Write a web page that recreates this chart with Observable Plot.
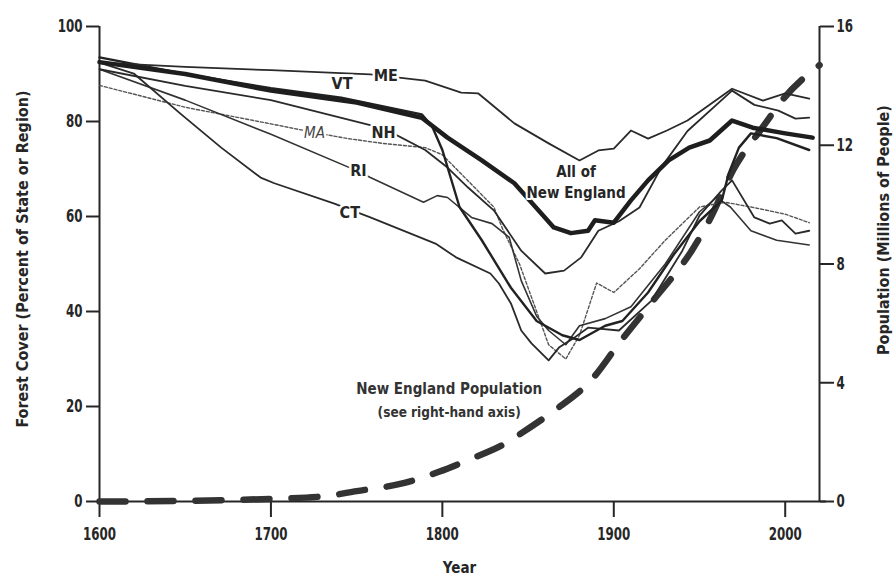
<!DOCTYPE html>
<html>
<head>
<meta charset="utf-8">
<script src="https://cdn.jsdelivr.net/npm/d3@7"></script>
<script src="https://cdn.jsdelivr.net/npm/@observablehq/plot@0.6"></script>
<style>
  html, body { margin: 0; padding: 0; background: #fff; }
  #chart { width: 896px; height: 581px; }
</style>
</head>
<body>
<div id="chart"></div>
<script>
// ---- Data ----
const xTicks = [1600, 1700, 1800, 1900, 2000];
const leftTicks = [0, 20, 40, 60, 80, 100];
const rightTicks = [0, 4, 8, 12, 16];   // population, millions

const xTitle = "Year";
const yTitle = "Forest Cover (Percent of State or Region)";
const y2Title = "Population (Millions of People)";

// Forest cover, percent: [year, percent]
const ME = [[1600,92.4],[1650,91.5],[1700,90.8],[1758,89.9],[1790,88.6],[1811,86.1],[1821,85.9],[1842,79.6],[1862,75.4],[1880,71.8],[1891,73.9],[1900,74.3],[1910,78.1],[1920,76.4],[1931,78.1],[1943,80.2],[1969,86.9],[1987,84.4],[2000,85.9],[2014,84.8]];
const VT = [[1600,93.5],[1650,90],[1700,87],[1741,85],[1788,81.5],[1794,79],[1800,74],[1810,62],[1823,55],[1840,45],[1855,38],[1870,35],[1880,34],[1895,37],[1905,38],[1920,44],[1935,52],[1950,59],[1963,63.4],[1967,69],[1973,74.5],[1980,77.5],[1995,76.5],[2014,74]];
const NH = [[1600,91],[1650,87.5],[1700,84.5],[1766,78.5],[1790,74],[1803,70.3],[1815,66.1],[1830,61.3],[1846,52.8],[1860,48],[1871,48.6],[1881,51.4],[1891,57],[1903,59],[1915,61.9],[1928,70.5],[1943,78],[1969,86.5],[1982,83.5],[1996,82.3],[2006,80.6],[2014,80.8]];
const MA = [[1600,87.6],[1650,83],[1700,79.5],[1725,77.7],[1745,76.4],[1765,75.4],[1790,74.5],[1800,73],[1830,62],[1835,57.5],[1845,50],[1855,40],[1862,33],[1872,30],[1880,35],[1890,46],[1900,44],[1915,49],[1930,55],[1950,62],[1965,63],[1980,62],[2000,60.5],[2014,58.7]];
const RI = [[1600,91],[1650,84.5],[1700,77.3],[1751,69.5],[1758,68.2],[1789,63],[1797,64.4],[1803,64],[1817,59.8],[1829,58.5],[1839,55.6],[1846,46.5],[1855,39],[1862,36],[1872,33],[1880,37],[1895,38.5],[1910,41],[1930,50],[1950,61],[1960,64],[1968,62],[1980,57],[1995,55],[2014,54]];
const CT = [[1600,92.4],[1620,90.1],[1647,81.7],[1671,74.5],[1694,68.2],[1702,67],[1737,62.7],[1758,59.8],[1796,54.3],[1808,51.4],[1828,48],[1833,45.9],[1840,41.7],[1846,36],[1852,33.3],[1862,29.7],[1868,32.4],[1877,34.5],[1885,36.6],[1903,36],[1922,42.3],[1940,52.8],[1950,60.2],[1963,65.5],[1969,67.6],[1982,59.8],[1991,58.5],[1998,59.2],[2006,56.4],[2014,57]];
const NE = [[1600,92.5],[1650,90],[1700,86.5],[1750,84],[1788,80.8],[1803,76.6],[1823,71.8],[1842,67],[1865,57.7],[1875,56.5],[1885,57],[1889,59.2],[1900,58.7],[1910,63.4],[1920,67.6],[1932,71.8],[1944,74.5],[1956,76],[1969,80.2],[1981,78.7],[2000,77.5],[2016,76.6]];

// New England population, millions: [year, millions]
const POP = [[1600,0],[1650,0.02],[1700,0.09],[1730,0.17],[1750,0.35],[1776,0.6],[1798,1.0],[1816,1.42],[1835,1.9],[1850,2.45],[1865,3.05],[1887,4.1],[1904,5.4],[1922,6.7],[1946,8.5],[1956,9.5],[1970,11.2],[1988,12.7],[1998,13.5],[2020,14.7]];

// Annotation labels: [text, year, percent]
const stateLabels = [["ME",1767,89.6],["VT",1741.5,87.9],["NH",1765.7,77.6],["RI",1751,69.7],["CT",1746,60.7]];
const maLabel = [["MA",1725.4,77.6]];
const neLabel = [["All of\nNew England",1878,67.6]];
const popLabel = [["New England Population",1804,23.6],["(see right-hand axis)",1804,18.6]];

// ---- Build tables ----
const rows = a => a.map(([year, value]) => ({year, value}));
const popScale = 100 / 16;  // maps millions onto the left (0-100) scale
const popRows = POP.map(([year, m]) => ({year, value: m * popScale}));
const lab = a => a.map(([text, year, value]) => ({text, year, value}));

const FONT = "'Liberation Sans Narrow','DejaVu Sans Condensed','Arial Narrow',sans-serif";
const INK = "#262626";

const chart = Plot.plot({
  width: 896,
  height: 581,
  marginLeft: 99,
  marginRight: 77,
  marginTop: 26,
  marginBottom: 80,
  style: {fontFamily: FONT, fontSize: "15px", fontWeight: "bold", color: INK, background: "#fff"},
  x: {domain: [1600, 2020]},
  y: {domain: [0, 100]},
  marks: [
    Plot.axisX({ticks: xTicks, tickFormat: d => String(d), tickSize: 16, tickPadding: 10, strokeWidth: 2, label: null, fontSize: 15}),
    Plot.axisY({ticks: leftTicks, tickSize: 13, tickPadding: 4, strokeWidth: 2, label: null, fontSize: 15}),
    Plot.axisY({anchor: "right", ticks: rightTicks.map(d => d * popScale), tickFormat: d => String(Math.round(d / popScale)),
      tickSize: 14, tickPadding: 3, strokeWidth: 2, label: null, fontSize: 15}),
    Plot.ruleX([1600], {y1: 0, y2: 100, stroke: INK, strokeWidth: 2}),
    Plot.ruleX([2020], {y1: 0, y2: 100, stroke: INK, strokeWidth: 2}),
    Plot.ruleY([0], {x1: 1600, x2: 2024, stroke: INK, strokeWidth: 2}),

    // axis titles
    Plot.text([xTitle], {text: d => d, frameAnchor: "bottom", textAnchor: "middle", dy: 71, fontSize: 15, fontWeight: "bold", fill: INK}),
    Plot.text([yTitle], {text: d => d, frameAnchor: "left", textAnchor: "middle", rotate: -90, dx: -77, dy: -5, fontSize: 16, fontWeight: "bold", fill: INK}),
    Plot.text([y2Title], {text: d => d, frameAnchor: "right", textAnchor: "middle", rotate: -90, dx: 64, dy: -34, fontSize: 16, fontWeight: "bold", fill: INK}),

    // population (dashed, right axis)
    Plot.line(popRows, {x: "year", y: "value", curve: "monotone-x", stroke: "#333", strokeWidth: 6.5, strokeDasharray: "26,22", strokeLinecap: "round"}),

    // state lines
    Plot.line(rows(MA), {x: "year", y: "value", stroke: "#555", strokeWidth: 1.4, strokeDasharray: "3,2"}),
    Plot.line(rows(RI), {x: "year", y: "value", stroke: "#333", strokeWidth: 1.6}),
    Plot.line(rows(CT), {x: "year", y: "value", stroke: "#2a2a2a", strokeWidth: 1.8}),
    Plot.line(rows(NH), {x: "year", y: "value", stroke: "#2a2a2a", strokeWidth: 1.8}),
    Plot.line(rows(VT), {x: "year", y: "value", stroke: "#222", strokeWidth: 2.4}),
    Plot.line(rows(ME), {x: "year", y: "value", stroke: "#2a2a2a", strokeWidth: 1.8}),
    Plot.line(rows(NE), {x: "year", y: "value", stroke: "#1e1e1e", strokeWidth: 4.5}),

    // labels
    Plot.text(lab(stateLabels), {x: "year", y: "value", text: "text", fontSize: 16, fontWeight: "bold", fill: INK, stroke: "#fff", strokeWidth: 5}),
    Plot.text(lab(maLabel), {x: "year", y: "value", text: "text", fontSize: 15, fontStyle: "italic", fontWeight: "normal", fill: "#444", stroke: "#fff", strokeWidth: 5}),
    Plot.text(lab(neLabel), {x: "year", y: "value", text: "text", fontSize: 15, fontWeight: "bold", lineHeight: 1.4, fill: INK, stroke: "#fff", strokeWidth: 4}),
    Plot.text(lab(popLabel).slice(0,1), {x: "year", y: "value", text: "text", fontSize: 15, fontWeight: "bold", fill: "#333"}),
    Plot.text(lab(popLabel).slice(1), {x: "year", y: "value", text: "text", fontSize: 13.5, fontWeight: "bold", fill: "#333"})
  ]
});

// Tick labels in the source are tall, narrow numerals: stretch them in place.
function stretch(selector, sx, sy) {
  chart.querySelectorAll(selector).forEach(t => {
    const tr = t.getAttribute("transform");
    if (tr) {
      t.setAttribute("transform", `${tr} scale(${sx},${sy})`);
    } else {
      const x = parseFloat(t.getAttribute("x"));
      const y = parseFloat(t.getAttribute("y"));
      if (isFinite(x) && isFinite(y)) {
        t.removeAttribute("x"); t.removeAttribute("y");
        t.setAttribute("transform", `translate(${x},${y}) scale(${sx},${sy})`);
      }
    }
  });
}
stretch('g[aria-label="x-axis tick label"] text', 0.88, 1.2);
stretch('g[aria-label="y-axis tick label"] text', 0.88, 1.2);

document.getElementById("chart").appendChild(chart);
</script>
</body>
</html>
